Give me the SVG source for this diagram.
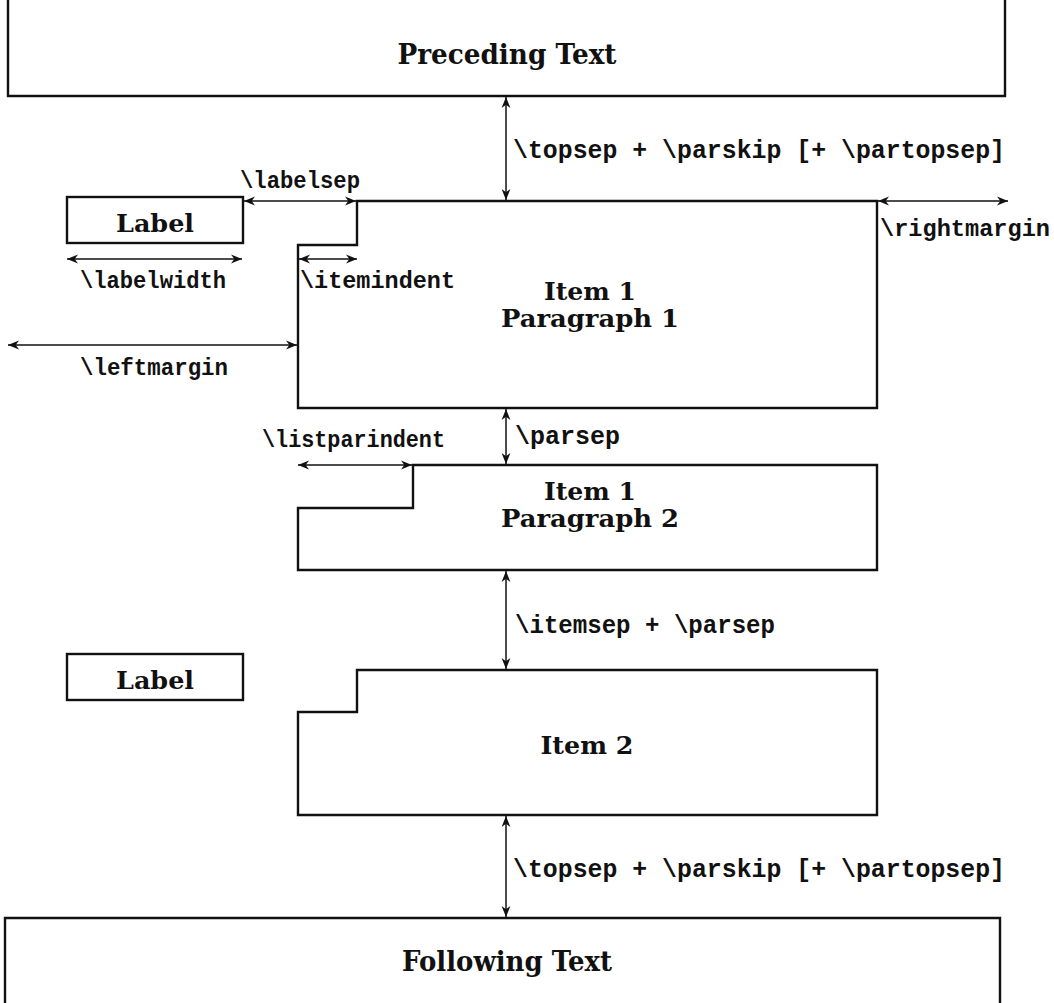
<svg xmlns="http://www.w3.org/2000/svg" width="1054" height="1003" viewBox="0 0 1054 1003">
<style>
.box{fill:none;stroke:#111;stroke-width:2.4;stroke-linejoin:miter}
.dim{fill:none;stroke:#111;stroke-width:1.5;marker-start:url(#a);marker-end:url(#a)}
.h{font-family:"DejaVu Serif","Liberation Serif",serif;font-weight:bold;fill:#111;text-anchor:middle}
.big{font-size:28px}
.lab{font-size:25px}
.it{font-size:24px}
.m{font-family:"Liberation Mono",monospace;font-weight:bold;fill:#111}
.ml{font-size:25px}
.ms{font-size:23px}
</style>
<defs>
<marker id="a" viewBox="0 0 10 10" refX="10" refY="5" markerWidth="11" markerHeight="11" markerUnits="userSpaceOnUse" orient="auto-start-reverse">
<path d="M0,1 L10,5 L0,9 L3,5 Z" fill="#111"/>
</marker>
</defs>
<g id="preceding">
<path class="box" d="M8,0 V96 H1005 V0"/>
<text class="h big" x="507" y="64" textLength="219" lengthAdjust="spacingAndGlyphs">Preceding Text</text>
</g>
<g id="label1">
<rect class="box" x="67" y="197" width="176" height="46"/>
<text class="h lab" x="155" y="232" textLength="78" lengthAdjust="spacingAndGlyphs">Label</text>
</g>
<g id="item1p1">
<path class="box" d="M357,201 H877 V408 H298 V245 H357 Z"/>
<text class="h it" x="590" y="300" textLength="92" lengthAdjust="spacingAndGlyphs">Item 1</text>
<text class="h it" x="590" y="327" textLength="178" lengthAdjust="spacingAndGlyphs">Paragraph 1</text>
</g>
<g id="item1p2">
<path class="box" d="M413,465 H877 V570 H298 V508 H413 Z"/>
<text class="h it" x="590" y="500" textLength="92" lengthAdjust="spacingAndGlyphs">Item 1</text>
<text class="h it" x="590" y="527" textLength="178" lengthAdjust="spacingAndGlyphs">Paragraph 2</text>
</g>
<g id="label2">
<rect class="box" x="67" y="654" width="176" height="46"/>
<text class="h lab" x="155" y="689" textLength="78" lengthAdjust="spacingAndGlyphs">Label</text>
</g>
<g id="item2">
<path class="box" d="M357,670 H877 V815 H298 V712 H357 Z"/>
<text class="h it" x="587" y="754" textLength="93" lengthAdjust="spacingAndGlyphs">Item 2</text>
</g>
<g id="following">
<path class="box" d="M5,1003 V918 H1000 V1003"/>
<text class="h big" x="507" y="971" textLength="210" lengthAdjust="spacingAndGlyphs">Following Text</text>
</g>
<g id="connectors">
<line class="dim" x1="506" y1="97" x2="506" y2="200"/>
<line class="dim" x1="244" y1="201" x2="356" y2="201"/>
<line class="dim" x1="67" y1="259" x2="242" y2="259"/>
<line class="dim" x1="299" y1="259" x2="357" y2="259"/>
<line class="dim" x1="8" y1="345" x2="297" y2="345"/>
<line class="dim" x1="878" y1="201" x2="1008" y2="201"/>
<line class="dim" x1="506" y1="409" x2="506" y2="464"/>
<line class="dim" x1="298" y1="465" x2="412" y2="465"/>
<line class="dim" x1="506" y1="571" x2="506" y2="669"/>
<line class="dim" x1="506" y1="816" x2="506" y2="917"/>
<text class="m ml" x="513" y="158" textLength="492" lengthAdjust="spacingAndGlyphs">\topsep + \parskip [+ \partopsep]</text>
<text class="m ms" x="240" y="188" textLength="120" lengthAdjust="spacingAndGlyphs">\labelsep</text>
<text class="m ms" x="80" y="288" textLength="146" lengthAdjust="spacingAndGlyphs">\labelwidth</text>
<text class="m ms" x="300" y="288" textLength="155" lengthAdjust="spacingAndGlyphs">\itemindent</text>
<text class="m ms" x="80" y="375" textLength="148" lengthAdjust="spacingAndGlyphs">\leftmargin</text>
<text class="m ms" x="880" y="236" textLength="170" lengthAdjust="spacingAndGlyphs">\rightmargin</text>
<text class="m ml" x="515" y="444">\parsep</text>
<text class="m ms" x="262" y="447" textLength="183" lengthAdjust="spacingAndGlyphs">\listparindent</text>
<text class="m ml" x="515" y="633" textLength="260" lengthAdjust="spacingAndGlyphs">\itemsep + \parsep</text>
<text class="m ml" x="513" y="877" textLength="492" lengthAdjust="spacingAndGlyphs">\topsep + \parskip [+ \partopsep]</text>
</g>
</svg>
